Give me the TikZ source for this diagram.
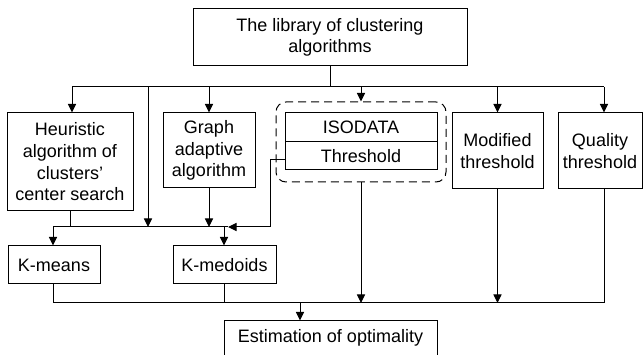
\documentclass[tikz,border=0pt]{standalone}
\usepackage{fontspec}
\setmainfont{Liberation Sans}
\usetikzlibrary{arrows.meta,calc}
\begin{document}
\begin{tikzpicture}[x=1pt,y=-1pt,
  line width=1pt,
  box/.style={draw=black,line width=1pt,inner sep=0pt,align=center,
    font=\fontsize{18}{21.7}\selectfont},
  arr/.style={draw=black,-{Triangle[length=8.5pt,width=8pt]}},
  ln/.style={draw=black},
  grp/.style={draw=black,dash pattern=on 8pt off 5pt,rounded corners=10pt,line width=1pt}]
\clip (0,0) rectangle (643,355);
% nodes
\node[box,minimum width=274pt,minimum height=57pt] (top) at (330,37.5) {The library of clustering\\algorithms};
\node[box,minimum width=126pt,minimum height=98pt] (heur) at (70,162) {Heuristic\\algorithm of\\clusters’\\center search};
\node[box,minimum width=92pt,minimum height=75pt] (graph) at (209,150.5) {Graph\\adaptive\\algorithm};
\node[grp,minimum width=170pt,minimum height=80pt] (group) at (361,142) {};
\node[box,minimum width=152pt,minimum height=29pt] (iso) at (361,127.5) {ISODATA};
\node[box,minimum width=152pt,minimum height=28pt] (thr) at (361,156) {Threshold};
\node[box,minimum width=91pt,minimum height=76pt] (mod) at (497.5,151) {Modified\\threshold};
\node[box,minimum width=84pt,minimum height=76pt] (qual) at (600,151) {Quality\\threshold};
\node[box,minimum width=92pt,minimum height=38pt] (kmeans) at (54,265) {K-means};
\node[box,minimum width=103pt,minimum height=38pt] (kmed) at (224.5,265) {K-medoids};
\node[box,minimum width=213pt,minimum height=40pt,text height=13pt,text depth=9pt] (est) at (330.5,341) {Estimation of optimality};
% junction coordinates
\coordinate (tb) at (330,87);
\coordinate (bL) at (72,87);
\coordinate (bR) at (604,87);
\coordinate (bmid) at (148,87);
\coordinate (lmid) at (148,227);
\coordinate (lL) at (53,227);
\coordinate (lM) at (224,227);
\coordinate (lT) at (228,227);
\coordinate (tc) at (270,160);
\coordinate (dL) at (53,303);
\coordinate (dR) at (604,303);
\coordinate (dE) at (300,303);
% top bus
\draw[ln] (top.south) -- (tb);
\draw[ln] (bL) -- (bR);
\draw[arr] (bL) -- (bL |- heur.north);
\draw[arr] (bmid) -- (lmid);
\draw[arr] (graph.north |- tb) -- (graph.north);
\draw[arr] (group.north |- tb) -- (group.north);
\draw[arr] (mod.north |- tb) -- (mod.north);
\draw[arr] (bR) -- (bR |- qual.north);
% lower bus
\draw[ln] (lL) -- (lT);
\draw[ln] (heur.south) -- (heur.south |- lL);
\draw[arr] (graph.south) -- (graph.south |- lL);
\draw[arr] ($(thr.west)+(0,4)$) -- (tc) |- (lT);
\draw[arr] (lL) -- (lL |- kmeans.north);
\draw[arr] (lM) -- (lM |- kmed.north);
% bottom bus
\draw[ln] (dL) -- (dR);
\draw[ln] (kmeans.south -| dL) -- (dL);
\draw[ln] (kmed.south) -- (kmed.south |- dL);
\draw[ln] (bR |- qual.south) -- (dR);
\draw[arr] (group.south) -- (group.south |- dL);
\draw[arr] (mod.south) -- (mod.south |- dL);
\draw[arr] (dE) -- (dE |- est.north);
\end{tikzpicture}
\end{document}
